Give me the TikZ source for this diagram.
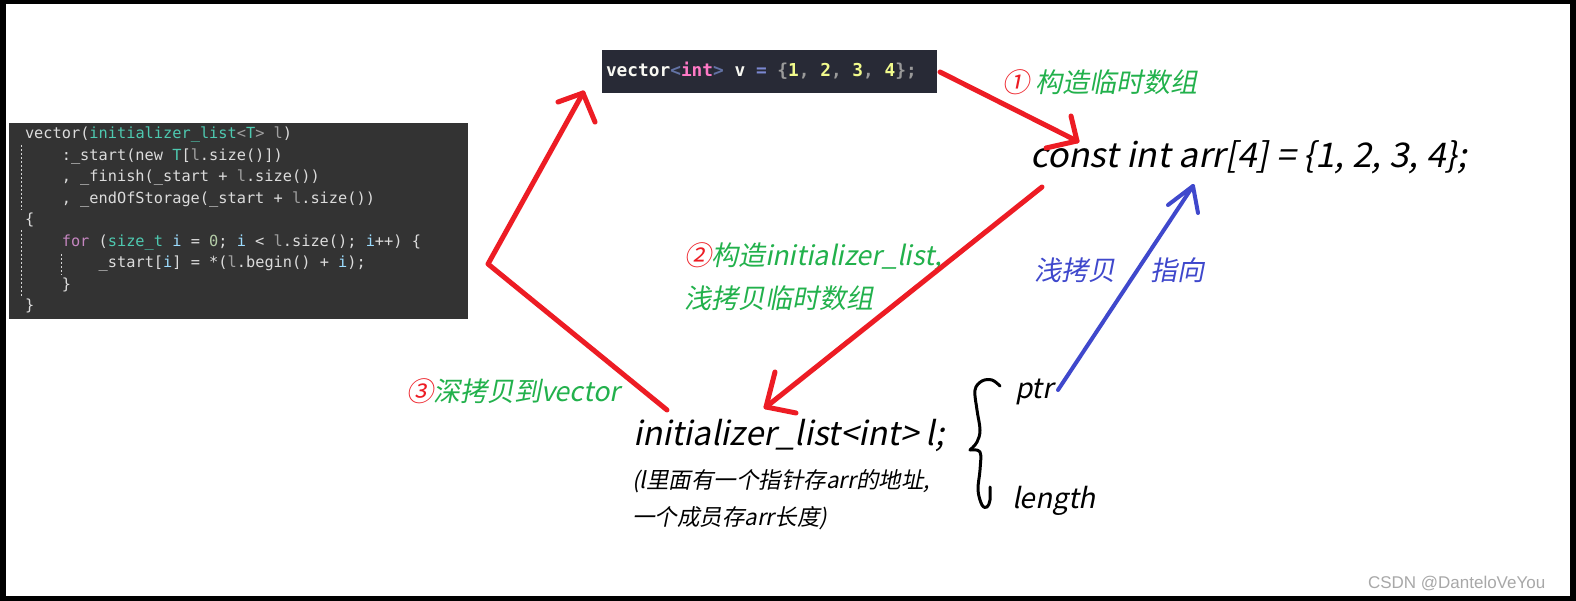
\documentclass[tikz,border=0pt]{standalone}
\usepackage{fontspec}
\setmainfont{Noto Sans CJK SC}[FakeSlant=0.2]
\newfontfamily\yh{Noto Sans CJK SC}[FakeSlant=0.2]
\newfontfamily\yhwide{Noto Sans CJK SC}[FakeSlant=0.2,FakeStretch=1.03]
\setmonofont{DejaVu Sans Mono}
\newfontfamily\wmfont{Liberation Sans}
\definecolor{pred}{HTML}{ED1C24}
\definecolor{pgreen}{HTML}{22B14C}
\definecolor{pblue}{HTML}{3F48CC}
\definecolor{codebg}{HTML}{333333}
\definecolor{topbg}{HTML}{282A36}
\definecolor{cwhite}{HTML}{DCDCDC}
\definecolor{cteal}{HTML}{4EC9B0}
\definecolor{cgray}{HTML}{A0A0A0}
\definecolor{ckwc}{HTML}{C586C0}
\definecolor{cidc}{HTML}{9CDCFE}
\definecolor{cnumc}{HTML}{B5CEA8}
\definecolor{dwhite}{HTML}{F8F8F2}
\definecolor{dcom}{HTML}{6272A4}
\definecolor{dpink}{HTML}{FF79C6}
\definecolor{dop}{HTML}{7B88D1}
\definecolor{dgray}{HTML}{9A9A9A}
\definecolor{dyel}{HTML}{F1FA8C}
\definecolor{wmgray}{HTML}{A8A8A8}
\newcommand{\cw}[1]{\textcolor{cwhite}{#1}}
\newcommand{\cty}[1]{\textcolor{cteal}{#1}}
\newcommand{\cgr}[1]{\textcolor{cgray}{#1}}
\newcommand{\ckw}[1]{\textcolor{ckwc}{#1}}
\newcommand{\cid}[1]{\textcolor{cidc}{#1}}
\newcommand{\cnum}[1]{\textcolor{cnumc}{#1}}
\tikzset{
  txt/.style={inner sep=0pt, outer sep=0pt, anchor=base west},
  codeline/.style={txt, font=\ttfamily\fontsize{15.3}{21}\selectfont},
  topcode/.style={txt, font=\ttfamily\bfseries\fontsize{17.8}{20}\selectfont},
  big/.style={txt, font=\yhwide\fontsize{34}{38}\selectfont},
  note/.style={txt, font=\yh\fontsize{27}{30}\selectfont},
  small/.style={txt, font=\yh\fontsize{22.5}{26}\selectfont},
  redarrow/.style={draw=pred, line width=5pt, line cap=round, line join=round},
  bluearrow/.style={draw=pblue, line width=4pt, line cap=round, line join=round},
  bracepen/.style={draw=black, line width=3pt, line cap=round, line join=round},
  guide/.style={draw=cgray!45, line width=0.8pt, dash pattern=on 2pt off 2pt}
}
\begin{document}
\begin{tikzpicture}[x=1pt,y=-1pt]
\useasboundingbox (0,0) rectangle (1576,601);
% frame
\fill[black] (0,0) rectangle (1576,601);
\fill[white] (6,4) rectangle (1570,596);

% left code box
\fill[codebg] (9,123) rectangle (468,319);
\draw[guide] (21,145) -- (21,210);
\draw[guide] (21,230) -- (21,296);
\draw[guide] (61,254) -- (61,275);
\node[codeline] (c1) at (25,139) {\cw{vector(}\cty{initializer\_list}\cgr{<}\cty{T}\cgr{>} \cgr{l}\cw{)}};
\node[codeline] (c2) at (61.8,160.5) {\cw{:\_start(new }\cty{T}\cw{[}\cgr{l}\cw{.size()])}};
\node[codeline] (c3) at (61.8,182) {\cw{, \_finish(\_start + }\cgr{l}\cw{.size())}};
\node[codeline] (c4) at (61.8,203.5) {\cw{, \_endOfStorage(\_start + }\cgr{l}\cw{.size())}};
\node[codeline] (c5) at (25,225) {\cw{\{}};
\node[codeline] (c6) at (61.8,246.5) {\ckw{for} \cw{(}\cty{size\_t} \cid{i} \cw{=} \cnum{0}\cw{;} \cid{i} \cw{<} \cgr{l}\cw{.size();} \cid{i}\cw{++) \{}};
\node[codeline] (c7) at (98.7,268) {\cw{\_start[}\cid{i}\cw{] = *(}\cgr{l}\cw{.begin() + }\cid{i}\cw{);}};
\node[codeline] (c8) at (61.8,289.5) {\cw{\}}};
\node[codeline] (c9) at (25,311) {\cw{\}}};

% top code box
\fill[topbg] (602,50) rectangle (937,93);
\node[topcode] (vec) at (606,77) {\textcolor{dwhite}{vector}\textcolor{dcom}{<}\textcolor{dpink}{int}\textcolor{dcom}{>} \textcolor{dwhite}{v} \textcolor{dop}{=} \textcolor{dgray}{\{}\textcolor{dyel}{1}\textcolor{dgray}{,} \textcolor{dyel}{2}\textcolor{dgray}{,} \textcolor{dyel}{3}\textcolor{dgray}{,} \textcolor{dyel}{4}\textcolor{dgray}{\};}};

% main texts
\node[big] (arr) at (1030,168) {const int arr[4] = \{1, 2, 3, 4\};};
\node[big, font=\yh\fontsize{33}{38}\selectfont] (il) at (633,445) {initializer\_list<int> l;};
\node[small] (d1) at (632,488) {(l里面有一个指针存arr的地址,};
\node[small] (d2) at (632,525) {一个成员存arr长度)};
\node[note, font=\yh\fontsize{28}{30}\selectfont] (ptr) at (1015,398) {ptr};
\node[note, font=\yh\fontsize{28}{30}\selectfont] (len) at (1012,508) {length};

% step labels
\node[note] (s1) at (1002,93) {\textcolor{pred}{①} \textcolor{pgreen}{构造临时数组}};
\node[note] (s2a) at (684,266) {\textcolor{pred}{②}\textcolor{pgreen}{构造initializer\_list,}};
\node[note] (s2b) at (684,309) {\textcolor{pgreen}{浅拷贝临时数组}};
\node[note] (s3) at (406,401) {\textcolor{pred}{③}\textcolor{pgreen}{深拷贝到vector}};
\node[note, text=pblue] (sh) at (1034,281) {浅拷贝};
\node[note, text=pblue] (pt) at (1150,281) {指向};

% watermark
\node[txt, font=\wmfont\fontsize{17}{20}\selectfont, text=wmgray] (wm) at (1368,588) {CSDN @DanteloVeYou};

% arrow coordinates
\coordinate (a1s) at (940,72);
\coordinate (a1t) at (1077,141);
\coordinate (a1b1) at (1071,116);
\coordinate (a1b2) at (1046,148);
\coordinate (a2s) at (1042,187);
\coordinate (a2t) at (766,407);
\coordinate (a2b1) at (775,372);
\coordinate (a2b2) at (796,413);
\coordinate (a3s) at (667,410);
\coordinate (a3c) at (488,264);
\coordinate (a3t) at (583,93);
\coordinate (a3b1) at (558,102);
\coordinate (a3b2) at (595,122);
\coordinate (bs) at (1058,390);
\coordinate (bt) at (1193,186);
\coordinate (bb1) at (1168,205);
\coordinate (bb2) at (1198,213);

% red arrows
\draw[redarrow] (a1s) -- (a1t);
\draw[redarrow] (a1b1) -- (a1t) -- (a1b2);
\draw[redarrow] (a2s) -- (a2t);
\draw[redarrow] (a2b1) -- (a2t) -- (a2b2);
\draw[redarrow] (a3s) -- (a3c) -- (a3t);
\draw[redarrow] (a3b1) -- (a3t) -- (a3b2);
% blue arrow
\draw[bluearrow] (bs) -- (bt);
\draw[bluearrow] (bb1) -- (bt) -- (bb2);

% brace
\draw[bracepen] plot[smooth, tension=0.6] coordinates {(1000,386) (992,380) (982,381) (975,390) (977,410) (980,430) (977,442) (970,450)};
\draw[bracepen] plot[smooth, tension=0.6] coordinates {(970,450) (980,452) (980,470) (978,490) (982,505) (987,507) (990,500) (990,487)};
\end{tikzpicture}
\end{document}
